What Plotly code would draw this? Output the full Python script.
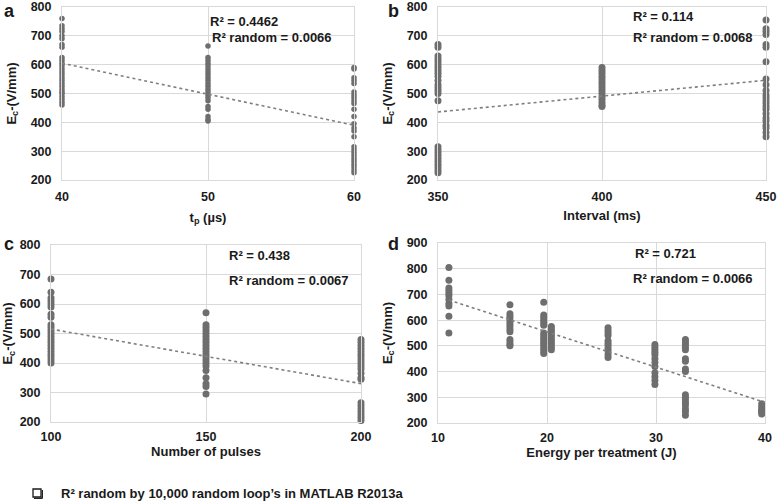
import plotly.graph_objects as go

# ---------------- data ----------------
a_x_levels = [40, 50, 60]
a_y_40 = [760, 735, 725, 715, 700, 690, 670, 660, 625, 615, 605, 595, 585, 575, 565, 555, 545,
          535, 525, 515, 505, 500, 490, 480, 470, 460]
a_y_50 = [665, 625, 615, 605, 595, 585, 575, 565, 555, 545, 535, 525, 515, 505, 495, 485, 475,
          455, 445, 420, 410, 405]
a_y_60 = [590, 585, 555, 545, 535, 505, 495, 485, 475, 465, 445, 420, 395, 380, 370, 350, 315,
          305, 295, 285, 275, 265, 255, 245, 235, 225]
a_trend_x = [40, 60]
a_trend_y = [605, 390]

b_x_levels = [350, 400, 450]
b_y_350 = [670, 660, 630, 620, 610, 600, 590, 580, 570, 560, 545, 530, 520, 510, 500, 475,
           315, 305, 295, 285, 275, 265, 255, 245, 235, 225]
b_y_400 = [590, 580, 570, 560, 550, 540, 530, 520, 510, 500, 490, 480, 470, 460, 455]
b_y_450 = [755, 725, 715, 705, 670, 660, 610, 550, 530, 510, 495, 485, 475, 465, 455, 445,
           430, 415, 405, 390, 380, 365, 350]
b_trend_x = [350, 450]
b_trend_y = [436, 546]

c_x_levels = [100, 150, 200]
c_y_100 = [685, 640, 620, 610, 600, 590, 565, 555, 530, 520, 510, 500, 490, 480, 470, 460,
           450, 440, 430, 420, 410, 400]
c_y_150 = [570, 530, 520, 510, 500, 490, 480, 470, 460, 450, 440, 430, 420, 410, 400, 390,
           375, 350, 330, 320, 295]
c_y_200 = [480, 470, 460, 450, 440, 430, 420, 410, 400, 390, 380, 365, 350, 345,
           265, 255, 245, 235, 225, 215, 205]
c_trend_x = [100, 200]
c_trend_y = [515, 330]

d_x_levels = [11.0, 16.6, 19.7, 20.4, 25.6, 29.9, 32.7, 39.7]
d_y_groups = [
    [805, 755, 725, 715, 705, 695, 680, 665, 655, 615, 550],
    [660, 625, 615, 605, 595, 585, 575, 565, 555, 525, 515, 505, 500],
    [670, 620, 610, 600, 590, 580, 550, 540, 530, 520, 510, 500, 490, 480, 470],
    [575, 565, 555, 545, 535, 525, 515, 505, 495, 485],
    [570, 560, 550, 540, 520, 510, 500, 490, 480, 465, 455],
    [505, 495, 485, 475, 465, 450, 435, 420, 395, 380, 365, 350],
    [525, 515, 505, 495, 485, 450, 440, 410, 400, 310, 300, 290, 280, 270, 255, 245, 230],
    [275, 265, 255, 250, 245, 240, 235],
]
d_trend_x = [11, 40]
d_trend_y = [678, 280]

r2_texts = {
    "a": ["R² = 0.4462", "R² random = 0.0066"],
    "b": ["R² = 0.114", "R² random = 0.0068"],
    "c": ["R² = 0.438", "R² random = 0.0067"],
    "d": ["R² = 0.721", "R² random = 0.0066"],
}
x_titles = {"a": "t<sub>p</sub> (µs)", "b": "Interval (ms)", "c": "Number of pulses",
            "d": "Energy per treatment (J)"}
y_title = "E<sub>c</sub>-(V/mm)"
footnote = "R² random by 10,000 random loop’s in MATLAB R2013a"

# ---------------- styling ----------------
W, H = 777, 502
FONT = "Arial, Liberation Sans, sans-serif"
MARKER = "#6e6e6e"
GRID = "#d9d9d9"
TXT = "#1a1a1a"

def px_x(p):
    return p / W

def px_y(p):
    return 1 - p / H

fig = go.Figure()

def add_points(xs, ys, axis_id, size):
    fig.add_trace(go.Scatter(x=xs, y=ys, mode="markers", xaxis="x" + axis_id, yaxis="y" + axis_id,
                             marker=dict(color=MARKER, size=size, line=dict(width=0)),
                             cliponaxis=False, showlegend=False, hoverinfo="skip"))

def add_trend(xs, ys, axis_id):
    fig.add_trace(go.Scatter(x=xs, y=ys, mode="lines", xaxis="x" + axis_id, yaxis="y" + axis_id,
                             line=dict(color="#7f7f7f", width=1.6, dash="dot"),
                             showlegend=False, hoverinfo="skip"))

for xv, ys in zip(a_x_levels, [a_y_40, a_y_50, a_y_60]):
    add_points([xv] * len(ys), ys, "", 5.5)
add_trend(a_trend_x, a_trend_y, "")
for xv, ys in zip(b_x_levels, [b_y_350, b_y_400, b_y_450]):
    add_points([xv] * len(ys), ys, "2", 7)
add_trend(b_trend_x, b_trend_y, "2")
for xv, ys in zip(c_x_levels, [c_y_100, c_y_150, c_y_200]):
    add_points([xv] * len(ys), ys, "3", 7)
add_trend(c_trend_x, c_trend_y, "3")
for xv, ys in zip(d_x_levels, d_y_groups):
    add_points([xv] * len(ys), ys, "4", 7)
add_trend(d_trend_x, d_trend_y, "4")

tickfont = dict(family=FONT, size=12.5, color=TXT, weight="bold")
titlefont = dict(family=FONT, size=13, color=TXT, weight="bold")

def xaxis(domain, rng, dtick, title, anchor, standoff, lblstand=5):
    return dict(domain=domain, range=rng, dtick=dtick, tick0=rng[0], anchor=anchor,
                showgrid=True, gridcolor=GRID, gridwidth=1, zeroline=False,
                showline=True, linecolor=GRID, linewidth=1, mirror=True,
                tickfont=tickfont, ticks="", ticklabelstandoff=lblstand, automargin=False,
                ticklabeloverflow="allow",
                title=dict(text=title, font=titlefont, standoff=standoff))

def yaxis(domain, rng, title, anchor):
    return dict(domain=domain, range=rng, dtick=100, anchor=anchor,
                showgrid=True, gridcolor=GRID, gridwidth=1, zeroline=False,
                showline=True, linecolor=GRID, linewidth=1, mirror=True,
                tickfont=tickfont, ticks="", ticklabelstandoff=7, automargin=False,
                ticklabeloverflow="allow",
                title=dict(text=title, font=titlefont, standoff=11))

dom_a_x = [px_x(62), px_x(354)]
dom_b_x = [px_x(438), px_x(766)]
dom_c_x = [px_x(51), px_x(361)]
dom_d_x = [px_x(438), px_x(765)]
dom_top_y = [px_y(180), px_y(7)]
dom_c_y = [px_y(422), px_y(245)]
dom_d_y = [px_y(423), px_y(243)]

fig.update_layout(
    template="none",
    width=W, height=H, margin=dict(l=0, r=0, t=0, b=0, autoexpand=False),
    paper_bgcolor="white", plot_bgcolor="white", showlegend=False,
    font=dict(family=FONT, color=TXT),
    xaxis=xaxis(dom_a_x, [40, 60], 10, x_titles["a"], "y", 9),
    yaxis=yaxis(dom_top_y, [200, 800], y_title, "x"),
    xaxis2=xaxis(dom_b_x, [350, 450], 50, x_titles["b"], "y2", 7),
    yaxis2=yaxis(dom_top_y, [200, 800], y_title, "x2"),
    xaxis3=xaxis(dom_c_x, [100, 200], 50, x_titles["c"], "y3", 0, 3),
    yaxis3=yaxis(dom_c_y, [200, 800], y_title, "x3"),
    xaxis4=xaxis(dom_d_x, [10, 40], 10, x_titles["d"], "y4", 1, 3),
    yaxis4=yaxis(dom_d_y, [200, 900], y_title, "x4"),
)

annots = []
def ann(text, x, y, size=13, xanchor="left"):
    annots.append(dict(text=text, x=px_x(x), y=px_y(y), xref="paper", yref="paper",
                       xanchor=xanchor, yanchor="middle", showarrow=False,
                       font=dict(family=FONT, size=size, color=TXT, weight="bold")))

ann(r2_texts["a"][0], 208, 22)
ann(r2_texts["a"][1], 210, 37)
ann(r2_texts["b"][0], 631, 17)
ann(r2_texts["b"][1], 631, 37)
ann(r2_texts["c"][0], 227, 255)
ann(r2_texts["c"][1], 227, 280)
ann(r2_texts["d"][0], 633, 253)
ann(r2_texts["d"][1], 631, 278)
ann("a", 2, 11, size=18)
ann("b", 386, 11, size=18)
ann("c", 2, 244, size=18)
ann("d", 386, 244, size=18)
ann(footnote, 59, 493, size=13)
fig.update_layout(annotations=annots)

fig.add_shape(type="rect", xref="paper", yref="paper",
              x0=px_x(33), x1=px_x(41), y0=px_y(497), y1=px_y(489),
              line=dict(color=TXT, width=1.3), fillcolor="white")
fig.add_shape(type="line", xref="paper", yref="paper",
              x0=px_x(34), x1=px_x(42.5), y0=px_y(498.3), y1=px_y(498.3),
              line=dict(color=TXT, width=1.3))
fig.add_shape(type="line", xref="paper", yref="paper",
              x0=px_x(42.3), x1=px_x(42.3), y0=px_y(498.3), y1=px_y(490),
              line=dict(color=TXT, width=1.3))

fig.write_html("out.html", config={"displayModeBar": False},
               post_script="document.body.style.margin='0';document.body.style.overflow='hidden';")
